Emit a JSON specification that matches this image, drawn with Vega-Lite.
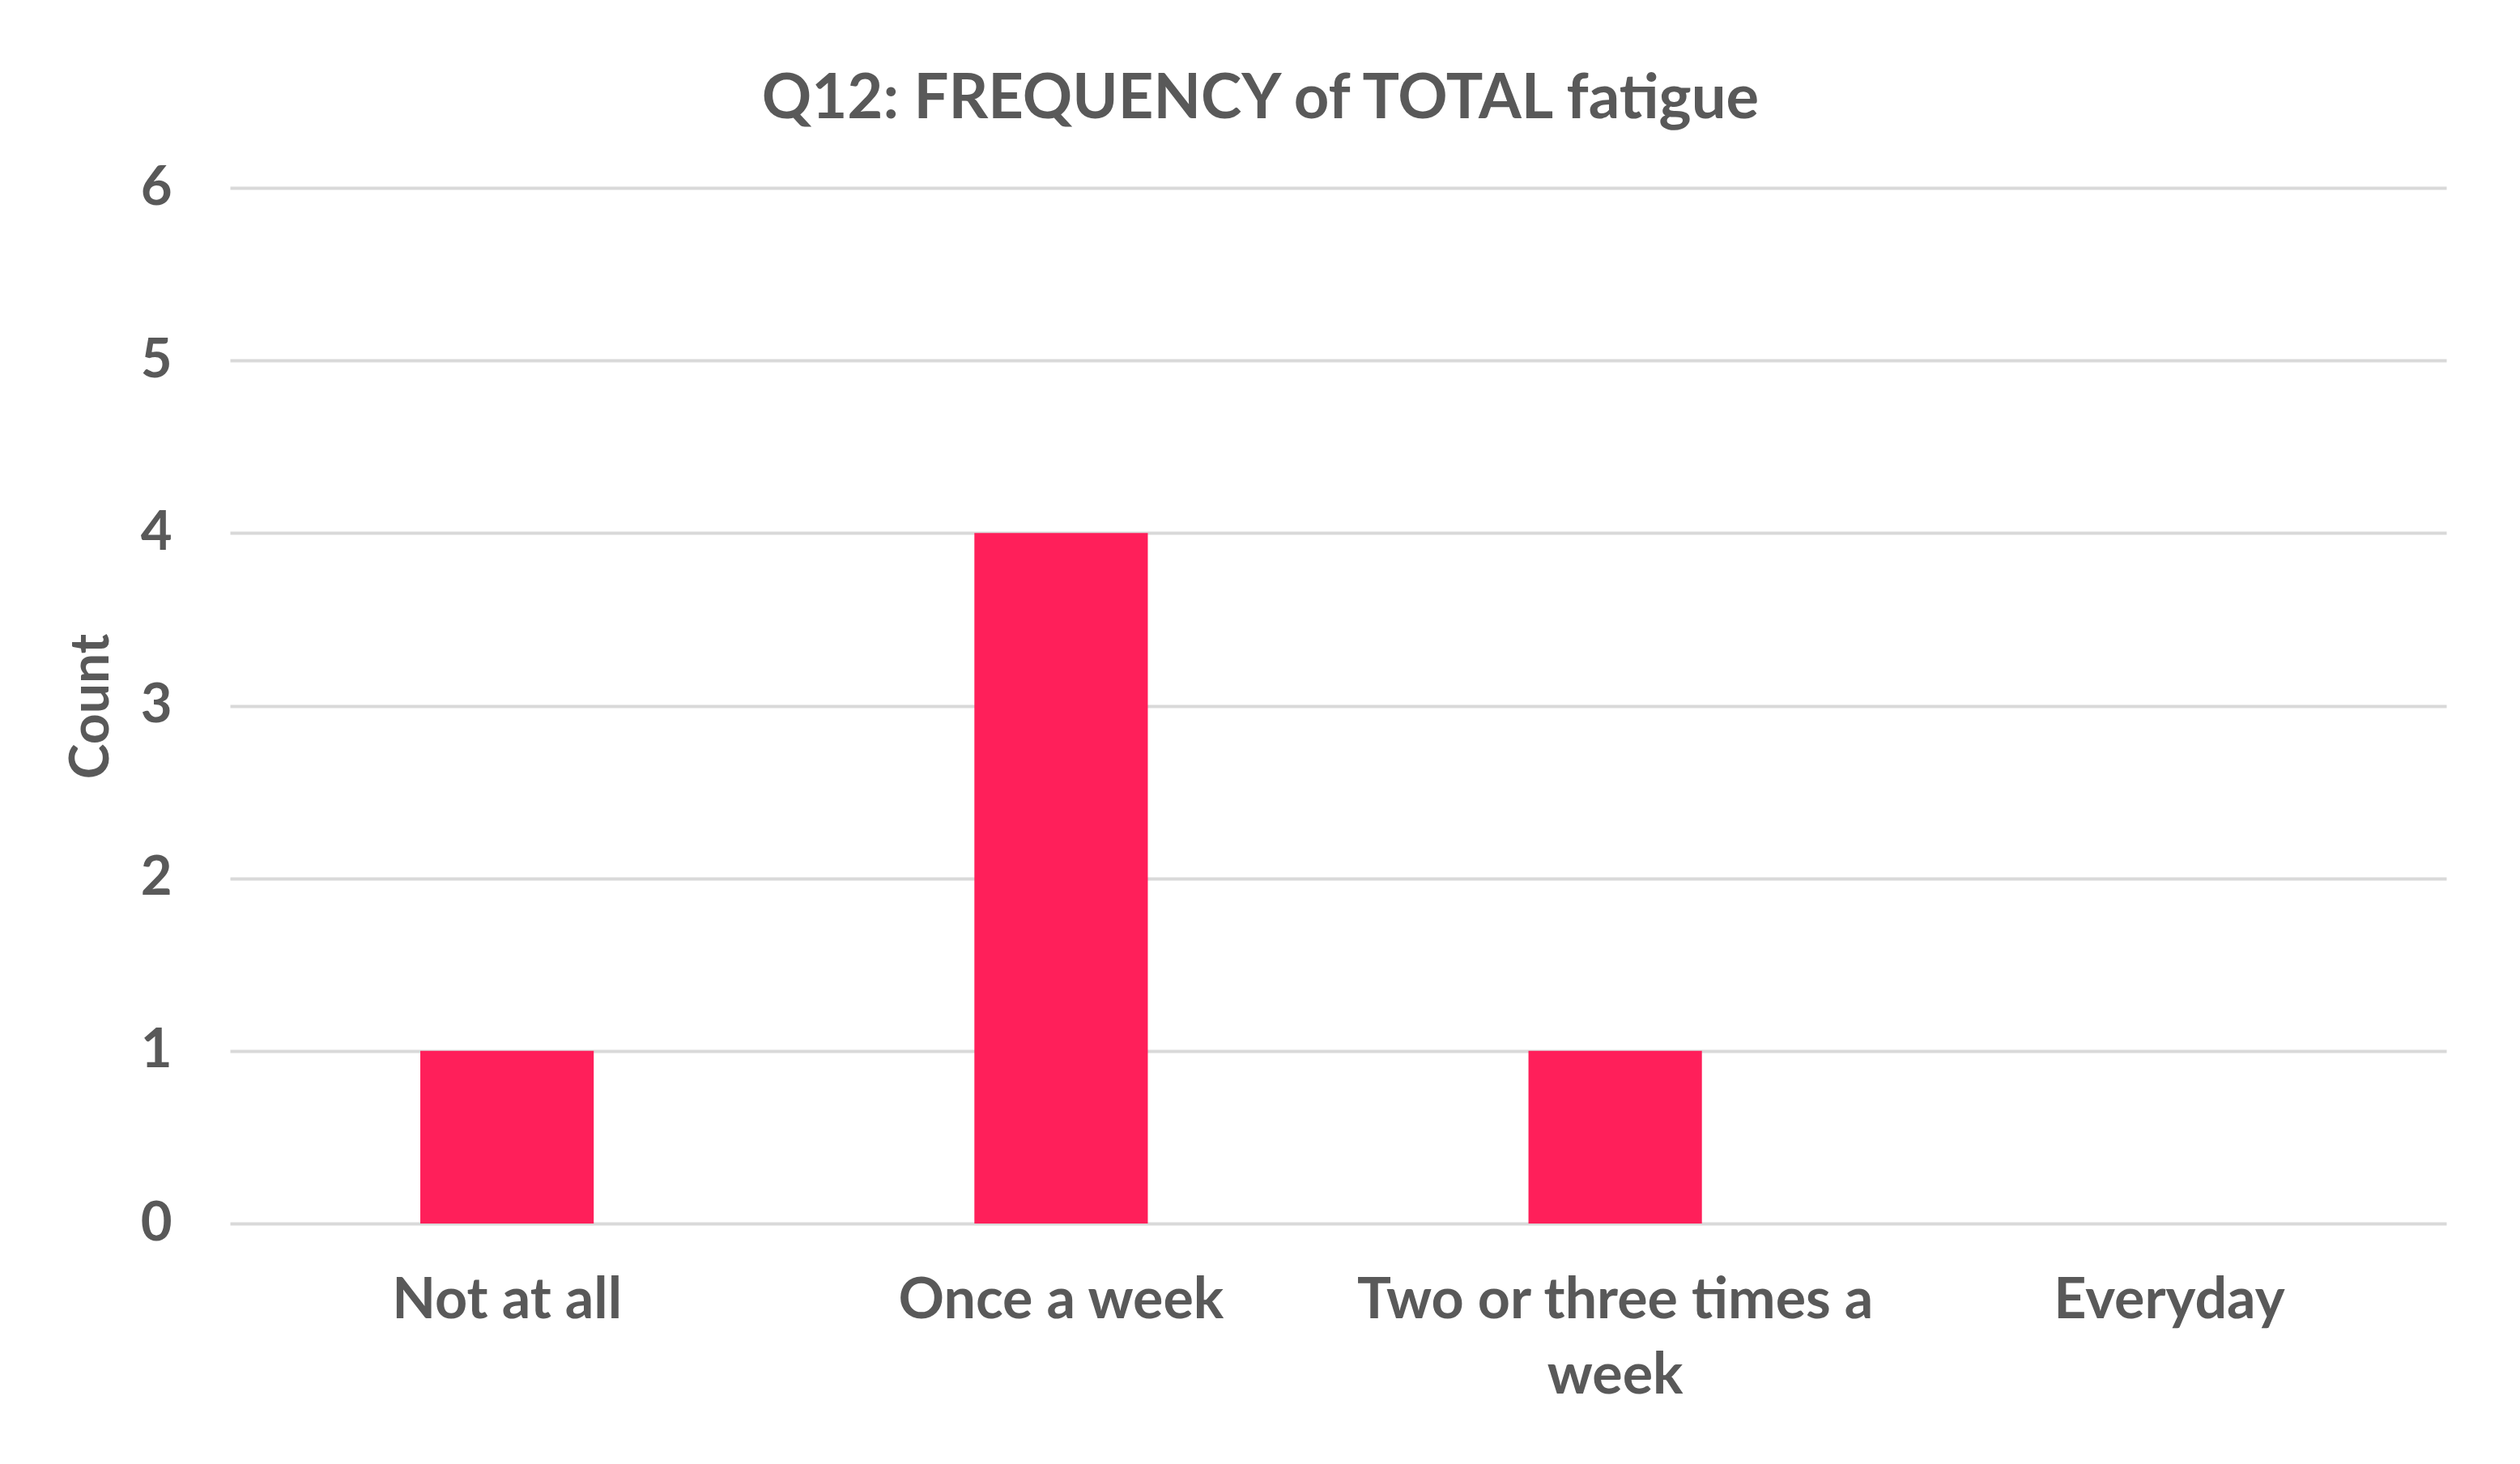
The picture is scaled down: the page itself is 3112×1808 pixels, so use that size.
{
  "$schema": "https://vega.github.io/schema/vega-lite/v6.json",
  "width": 2737,
  "height": 1279,
  "autosize": {"type": "none"},
  "padding": {"left": 284, "top": 232, "right": 91, "bottom": 297},
  "background": "white",
  "title": {
    "text": "Q12: FREQUENCY of TOTAL fatigue",
    "font": "Lato",
    "fontSize": 76,
    "fontWeight": "bold",
    "color": "#595959",
    "anchor": "middle",
    "baseline": "alphabetic",
    "offset": -24,
    "dx": -96
  },
  "data": {
    "values": [
      {"freq": "Not at all", "count": 1},
      {"freq": "Once a week", "count": 4},
      {"freq": "Two or three times a week", "count": 1},
      {"freq": "Everyday", "count": 0}
    ]
  },
  "mark": {"type": "bar", "color": "#FF1F5A"},
  "encoding": {
    "x": {
      "field": "freq",
      "type": "nominal",
      "sort": null,
      "scale": {"paddingInner": 0.687, "paddingOuter": 0.3435},
      "axis": {
        "title": null,
        "labelAngle": 0,
        "labelFont": "Lato",
        "labelFontSize": 70,
        "labelFontWeight": "bold",
        "labelColor": "#595959",
        "labelPadding": 61,
        "labelLineHeight": 93,
        "labelBaseline": "top",
        "labelLimit": 0,
        "labelExpr": "datum.label == 'Two or three times a week' ? ['Two or three times a', 'week'] : datum.label",
        "ticks": false,
        "tickSize": 0,
        "domain": false,
        "grid": false
      }
    },
    "y": {
      "field": "count",
      "type": "quantitative",
      "scale": {"domain": [0, 6], "nice": false},
      "axis": {
        "title": "Count",
        "titleFont": "Lato",
        "titleFontSize": 66,
        "titleFontWeight": "bold",
        "titleColor": "#595959",
        "titleX": -171,
        "titleY": 640,
        "titleBaseline": "middle",
        "titleAlign": "center",
        "titleAngle": -90,
        "values": [0, 1, 2, 3, 4, 5, 6],
        "labelFont": "Lato",
        "labelFontSize": 67,
        "labelFontWeight": "bold",
        "labelColor": "#595959",
        "labelPadding": 72,
        "ticks": false,
        "tickSize": 0,
        "domain": false,
        "grid": true,
        "gridColor": "#D9D9D9",
        "gridWidth": 4
      }
    }
  },
  "config": {"view": {"stroke": null}}
}
